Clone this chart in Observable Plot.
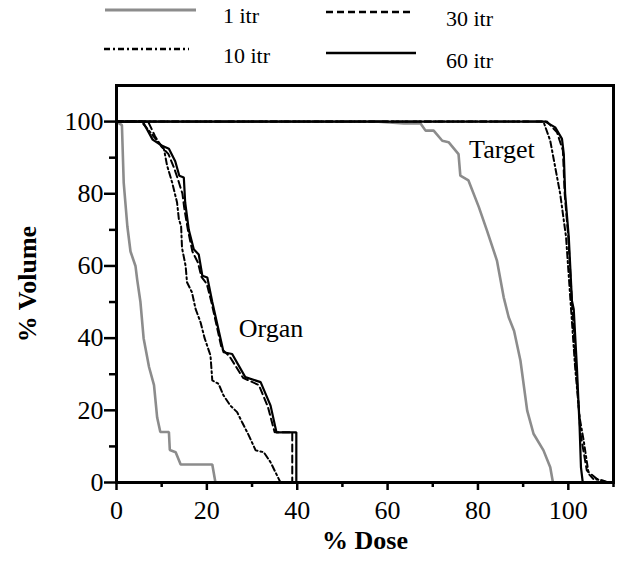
<!DOCTYPE html>
<html><head><meta charset="utf-8">
<script src="https://cdn.jsdelivr.net/npm/d3@7"></script>
<script src="https://cdn.jsdelivr.net/npm/@observablehq/plot@0.6"></script>
<style>
body{margin:0;background:#fff;font-family:"Liberation Serif","Times New Roman",serif;}
#chart svg{display:block;}
</style></head><body>
<div id="chart"></div>
<script>
// ---- data: [% Dose, % Volume] points of each DVH curve ----
const seriesNames = ["1 itr", "10 itr", "30 itr", "60 itr"];

const organ1 = [[0,100],[1.2,99],[1.6,83],[2.4,71],[3.1,64],[4.2,60],[4.6,56],[5.3,50],[6.0,40],[7.2,32],[8.3,27],[9.0,18],[9.7,14],[11.6,14],[11.8,9],[13.1,8.4],[14.2,5],[21.2,5],[21.9,0]];
const organ10 = [[0,100],[5.5,100],[7.5,97],[10.5,92.4],[11.2,87.8],[12.3,83.2],[13.4,77.6],[13.8,73],[14.3,71],[14.5,65],[15.3,60],[15.6,55.5],[16.7,52.7],[17.5,48.1],[18.6,44.4],[19.5,40],[20.8,35.2],[21.2,28.3],[22.6,27.3],[23.7,24.1],[25.2,21.3],[26.7,19.5],[27.8,16.7],[29.3,13],[30.8,8.9],[32.6,8.4],[34.1,5.6],[36.3,0]];
const organ30 = [[0,100],[7,100],[8.5,96],[10,93],[11.5,91],[12.8,87],[13.6,84],[14.6,80],[15,76],[15.8,70],[16.8,64],[18,61],[18.8,57],[20,55],[21,50],[23.3,37],[25,35],[28,29],[31.5,27],[33.5,21],[35,13.9],[38.9,13.9],[38.9,0]];
const organ60 = [[0,100],[5.8,100],[8,95],[10.1,93.3],[11.6,92.5],[13,89],[13.9,85],[14.9,84.5],[15.2,77.6],[16.0,70],[17.1,64.6],[18.2,63.2],[19.0,57.3],[20.1,56.8],[21.2,50],[23.7,36.1],[25.6,35.6],[28.5,29.2],[31.9,27.8],[34.1,21.3],[35.4,13.9],[39.8,13.9],[39.8,0]];

const target1 = [[0,100],[58,100],[63.6,99.5],[67.3,99.5],[68.4,97.5],[70.2,97.5],[72.1,94.7],[73.5,94.3],[75.7,91],[76.1,85],[77.9,83.7],[80.2,76.3],[82,69.8],[84.2,61.5],[85.7,51.3],[86.8,45.8],[88,42],[89.4,33.8],[90.9,19.9],[92.3,13.5],[94.5,8.9],[96,4.2],[96.6,0]];
const target10 = [[0,100],[94.5,100],[96,94.7],[98.2,80],[99.5,68],[100.5,50],[101.5,32],[102.5,18],[103.4,11.6],[104.5,2.4],[105.5,1],[107.7,0.5],[108.5,0]];
const target30 = [[0,100],[95.3,100],[97.5,97],[98.8,92],[99.2,80],[100,68],[100.8,50],[101.7,32],[102.7,13.5],[104.1,3.3],[106.3,1],[109,0]];
const target60 = [[0,100],[94.9,100],[97.1,98.4],[98.6,95.2],[99,91],[99.3,80],[100.1,68],[100.8,50.4],[101.2,48],[101.9,31.9],[102.5,15.3],[102.8,4.2],[103.2,0]];

const xMajorTicks = [0,20,40,60,80,100];
const xMinorTicks = [10,30,50,70,90,110];
const yMajorTicks = [0,20,40,60,80,100];
const yMinorTicks = [10,30,50,70,90];

const annoText = ["Target", "Organ"];
const annoDose = [85.3, 34.2];
const annoVol = [92.2, 42.5];

// ---- styles ----
const styles = {
  "1 itr":  {stroke:"#8c8c8c", strokeWidth:2.6, dash:null},
  "10 itr": {stroke:"#000", strokeWidth:2, dash:"6,3,2,3"},
  "30 itr": {stroke:"#000", strokeWidth:2, dash:"7,4"},
  "60 itr": {stroke:"#000", strokeWidth:2.2, dash:null}
};
const curves = {"1 itr":[organ1,target1], "10 itr":[organ10,target10], "30 itr":[organ30,target30], "60 itr":[organ60,target60]};

// ---- legend (above the plot) ----
const legend = d3.select("#chart").append("svg").attr("width", 635).attr("height", 76)
  .style("font-family", '"Liberation Serif","Times New Roman",serif');
const legendPos = {
  "1 itr":  {x1:105, x2:196, ly:10, tx:223, ty:15},
  "30 itr": {x1:326, x2:410, ly:12, tx:446, ty:18},
  "10 itr": {x1:104, x2:189, ly:49, tx:223, ty:55},
  "60 itr": {x1:326, x2:416, ly:53, tx:446, ty:60}
};
for (const name of seriesNames) {
  const p = legendPos[name], s = styles[name];
  legend.append("line").attr("x1", p.x1).attr("x2", p.x2).attr("y1", p.ly).attr("y2", p.ly)
    .attr("stroke", s.stroke).attr("stroke-width", s.strokeWidth + 0.4)
    .attr("stroke-dasharray", s.dash);
  legend.append("text").attr("x", p.tx).attr("y", p.ty).attr("dy", "0.35em")
    .attr("font-size", 22).text(name);
}

// ---- plot ----
const marks = [];
for (const name of seriesNames) {
  const s = styles[name];
  for (const pts of curves[name]) {
    marks.push(Plot.line(pts, {x: d => d[0], y: d => d[1], stroke: s.stroke, strokeWidth: s.strokeWidth,
      strokeDasharray: s.dash, strokeLinejoin: "miter", curve: "linear"}));
  }
}
const annos = annoText.map((t, i) => ({t, d: annoDose[i], v: annoVol[i]}));
marks.push(Plot.text(annos, {x: "d", y: "v", text: "t", fontSize: 26, fill: "#000"}));

marks.push(Plot.axisX({ticks: xMajorTicks, tickSize: 8, tickPadding: 10, fontSize: 26, strokeWidth: 2.5, label: null, tickFormat: d => String(d)}));
marks.push(Plot.axisX({ticks: xMinorTicks, tickSize: 5, strokeWidth: 2.5, label: null, tickFormat: () => ""}));
marks.push(Plot.axisY({ticks: yMajorTicks, tickSize: 12, tickPadding: 1, fontSize: 26, strokeWidth: 2.5, label: null, tickFormat: d => String(d)}));
marks.push(Plot.axisY({ticks: yMinorTicks, tickSize: 7, strokeWidth: 2.5, label: null, tickFormat: () => ""}));
marks.push(Plot.frame({stroke: "#000", strokeWidth: 3}));
marks.push(Plot.text(["% Volume"], {frameAnchor: "left", textAnchor: "middle", lineAnchor: "middle", rotate: -90, dx: -89, text: d => d, fontSize: 26, fontWeight: "bold"}));
marks.push(Plot.text(["% Dose"], {frameAnchor: "bottom", textAnchor: "middle", lineAnchor: "middle", dy: 58, text: d => d, fontSize: 26, fontWeight: "bold"}));

const chart = Plot.plot({
  width: 635, height: 492,
  marginTop: 9, marginBottom: 86, marginLeft: 116, marginRight: 22,
  x: {domain: [0, 110]},
  y: {domain: [0, 110]},
  style: {fontFamily: '"Liberation Serif","Times New Roman",serif', color: "#000", background: "#fff", overflow: "visible"},
  marks
});
document.getElementById("chart").appendChild(chart);
</script></body></html>
